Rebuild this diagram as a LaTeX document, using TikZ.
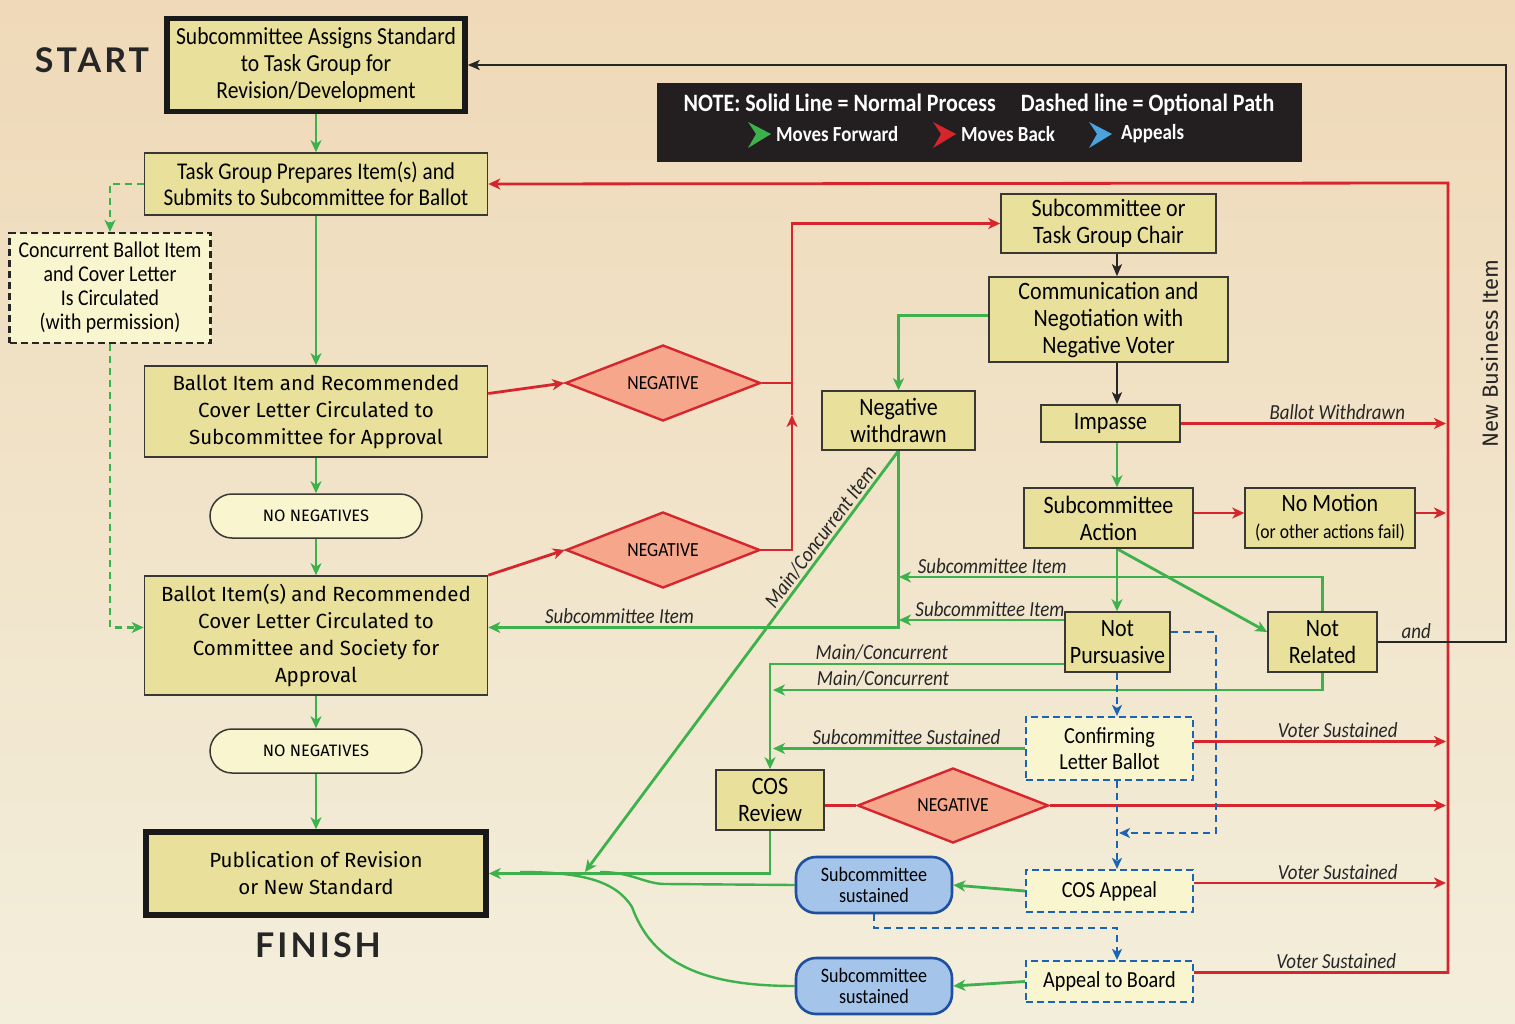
\documentclass[tikz,border=0pt]{standalone}
\usepackage{fontspec}
\setmainfont{Carlito}[FakeStretch=0.88]
\newfontfamily\widefont{Fira Sans}
\newfontfamily\titlefont{Lato}[LetterSpace=9]
\usepackage{xcolor}
\usepackage{tikz}
\usetikzlibrary{shapes.geometric,arrows.meta,calc}
\definecolor{bgtop}{HTML}{EFD9B8}
\definecolor{bgbot}{HTML}{F3EEDB}
\definecolor{boxfill}{HTML}{E9E19B}
\definecolor{paleyellow}{HTML}{F9F5CF}
\definecolor{boxline}{HTML}{3A3835}
\definecolor{negfill}{HTML}{F5A68B}
\definecolor{fred}{HTML}{D7252D}
\definecolor{fgreen}{HTML}{3DB14B}
\definecolor{fblue}{HTML}{1B63B4}
\definecolor{bluefill}{HTML}{A4C5E9}
\definecolor{blueline}{HTML}{1E4FA0}
\definecolor{notebg}{HTML}{231F20}
\definecolor{keyblue}{HTML}{4BA3DD}
\tikzstyle{task box}=[fill=boxfill, draw=boxline, line width=1.6pt, shape=rectangle, align=center, inner sep=0pt, font=\fontsize{25}{27}\selectfont]
\tikzstyle{end box}=[task box, line width=5.5pt, draw=black!90]
\tikzstyle{wide box}=[task box, font=\widefont\fontsize{20.5}{27}\selectfont]
\tikzstyle{option box}=[task box, fill=paleyellow, draw=black!85, dash pattern=on 7pt off 4pt, line width=2.2pt, font=\fontsize{22.5}{24}\selectfont]
\tikzstyle{appeal box}=[option box, draw=fblue, font=\fontsize{23}{26}\selectfont]
\tikzstyle{pill}=[fill=paleyellow, draw=boxline, line width=1.5pt, rounded corners=22pt, inner sep=0pt, font=\widefont\fontsize{16.5}{18}\selectfont]
\tikzstyle{negative node}=[shape=diamond, fill=negfill, draw=fred, line width=2.4pt, shape aspect=2.6, inner sep=0pt, font=\fontsize{20}{22}\selectfont]
\tikzstyle{sustained node}=[fill=bluefill, draw=blueline, line width=2.6pt, rounded corners=20pt, align=center, inner sep=0pt, font=\fontsize{20.5}{21}\selectfont]
\tikzstyle{end label}=[text=black!85, font=\titlefont\bfseries\fontsize{34}{36}\selectfont]
\tikzstyle{note box}=[fill=notebg, draw=none, minimum width=645pt, minimum height=79pt]
\tikzstyle{note text}=[text=white, inner sep=0pt, font=\bfseries\fontsize{25}{27}\selectfont]
\tikzstyle{key text}=[note text, anchor=west, font=\bfseries\fontsize{21.5}{23}\selectfont]
\tikzstyle{edge label}=[above, inner sep=2pt, text=black!85, font=\itshape\fontsize{21.5}{23}\selectfont]
\tikzstyle{green edge}=[draw=fgreen, line width=2.8pt, -{Stealth[length=12pt, width=11pt, inset=3.5pt]}]
\tikzstyle{green line}=[draw=fgreen, line width=2.4pt]
\tikzstyle{green dash}=[green edge, dash pattern=on 7pt off 5pt]
\tikzstyle{red edge}=[draw=fred, line width=2.8pt, -{Stealth[length=12pt, width=11pt, inset=3.5pt]}]
\tikzstyle{red line}=[draw=fred, line width=2.8pt]
\tikzstyle{black edge}=[draw=black!85, line width=2pt, -{Stealth[length=12pt, width=10pt, inset=3pt]}]
\tikzstyle{blue edge}=[draw=fblue, line width=2.6pt, dash pattern=on 7pt off 5pt, -{Stealth[length=11pt, width=10pt, inset=3pt]}]
\pgfdeclarelayer{bglayer}
\pgfdeclarelayer{edgelayer}
\pgfdeclarelayer{nodelayer}
\pgfsetlayers{bglayer,edgelayer,nodelayer,main}

\begin{document}
\begin{tikzpicture}[x=1pt, y=-1pt]
	\useasboundingbox (0,0) rectangle (1515,1024);
	\begin{pgfonlayer}{bglayer}
		\shade [top color=bgtop, bottom color=bgbot] (0,0) rectangle (1515,1024);
	\end{pgfonlayer}
	\begin{pgfonlayer}{nodelayer}
		\node [style=end label] (0) at (92,60) {START};
		\node [style=end box, font=\fontsize{24.5}{27}\selectfont, minimum width=298pt, minimum height=93pt] (1) at (316,65) {Subcommittee Assigns Standard\\to Task Group for\\Revision/Development};
		\node [style=task box, font=\fontsize{24}{26}\selectfont, minimum width=343pt, minimum height=62pt] (2) at (316,184) {Task Group Prepares Item(s) and\\Submits to Subcommittee for Ballot};
		\node [style=option box, minimum width=201pt, minimum height=110pt] (3) at (110,288) {Concurrent Ballot Item\\and Cover Letter\\Is Circulated\\(with permission)};
		\node [style=wide box, minimum width=343pt, minimum height=91pt] (4) at (316,411.5) {Ballot Item and Recommended\\Cover Letter Circulated to\\Subcommittee for Approval};
		\node [style=pill, minimum width=212pt, minimum height=44pt] (5) at (316,516) {NO NEGATIVES};
		\node [style=wide box, minimum width=343pt, minimum height=119pt] (6) at (316,635.5) {Ballot Item(s) and Recommended\\Cover Letter Circulated to\\Committee and Society for\\Approval};
		\node [style=pill, minimum width=212pt, minimum height=44pt] (7) at (316,751) {NO NEGATIVES};
		\node [style=end box, font=\widefont\fontsize{20.5}{27}\selectfont, minimum width=340pt, minimum height=83pt] (8) at (316,873.5) {Publication of Revision\\or New Standard};
		\node [style=end label] (9) at (318,945) {FINISH};
		\node [style=note box] (10) at (979.5,122.5) {};
		\node [style=note text] (42) at (979,105) {NOTE: Solid Line = Normal Process\quad Dashed line = Optional Path};
		\node [style=key text] (43) at (776,134) {Moves Forward};
		\node [style=key text] (44) at (961,134) {Moves Back};
		\node [style=key text] (45) at (1121,134) {Appeals};
		\node [style=negative node, minimum width=195pt, minimum height=76pt] (11) at (663,383) {NEGATIVE};
		\node [style=negative node, minimum width=194pt, minimum height=76pt] (12) at (663,550) {NEGATIVE};
		\node [style=task box, minimum width=215pt, minimum height=59pt] (13) at (1108.5,223.5) {Subcommittee or\\Task Group Chair};
		\node [style=task box, minimum width=239pt, minimum height=85pt] (14) at (1108.5,319.5) {Communication and\\Negotiation with\\Negative Voter};
		\node [style=task box, minimum width=153pt, minimum height=59pt] (15) at (898.5,420.5) {Negative\\withdrawn};
		\node [style=task box, minimum width=139pt, minimum height=37pt] (16) at (1110.5,423.5) {Impasse};
		\node [style=task box, minimum width=169pt, minimum height=60pt] (17) at (1108.5,518) {Subcommittee\\Action};
		\node [style=task box, minimum width=170pt, minimum height=60pt] (18) at (1330,518) {No Motion\\{\fontsize{20}{24}\selectfont(or other actions fail)}};
		\node [style=task box, minimum width=105pt, minimum height=60pt] (19) at (1117.5,642) {Not\\Pursuasive};
		\node [style=task box, minimum width=109pt, minimum height=60pt] (20) at (1322.5,642) {Not\\Related};
		\node [style=appeal box, minimum width=167pt, minimum height=63pt] (21) at (1109.5,748.5) {Confirming\\Letter Ballot};
		\node [style=task box, minimum width=108pt, minimum height=60pt] (22) at (770,800) {COS\\Review};
		\node [style=negative node, minimum width=191pt, minimum height=75pt] (23) at (953,805.5) {NEGATIVE};
		\node [style=appeal box, minimum width=167pt, minimum height=42pt] (24) at (1109.5,891) {COS Appeal};
		\node [style=sustained node, minimum width=156pt, minimum height=56pt] (25) at (874,885) {Subcommittee\\sustained};
		\node [style=appeal box, minimum width=167pt, minimum height=41pt] (26) at (1109.5,981.5) {Appeal to Board};
		\node [style=sustained node, minimum width=156pt, minimum height=56pt] (27) at (874,986) {Subcommittee\\sustained};
	\end{pgfonlayer}
	\begin{pgfonlayer}{edgelayer}
		\coordinate (30) at (792,415);
		\coordinate (31) at (1117,0);
		\coordinate (32) at (1448,183);
		\coordinate (33) at (1446,0);
		\coordinate (34) at (1506,65);
		\coordinate (35) at (899,0);
		\coordinate (36) at (899,577);
		\coordinate (37) at (585,872);
		\coordinate (38) at (773,690);
		\coordinate (39) at (1216,833);
		\coordinate (40) at (1119,833);
		\coordinate (41) at (1117,928);
		% main column
		\draw [style=green edge] (1) to (2);
		\draw [style=green edge] (2) to (4);
		\draw [style=green edge] (4) to (5);
		\draw [style=green edge] (5) to (6);
		\draw [style=green edge] (6) to (7);
		\draw [style=green edge] (7) to (8);
		\draw [style=green dash] (2.west) -| (3.north);
		\draw [style=green dash] (3.south) |- ([yshift=8pt]6.west);
		% negatives go to the chair
		\draw [style=red edge] ([yshift=18pt]4.east) to (11.west);
		\draw [style=red edge] (6.north east) to (12.west);
		\draw [style=red line] (11.east) to (11.east -| 30);
		\draw [style=red edge] (12.east) -| (30);
		\draw [style=red edge] (30) |- (13.west);
		\draw [style=black edge] (13.south -| 31) to (14.north -| 31);
		\draw [style=black edge] (14.south -| 31) to (16.north -| 31);
		\draw [style=green edge] ([yshift=4pt]14.west) -| (15.north);
		\draw [style=green edge] (16.south -| 31) to (17.north -| 31);
		\draw [style=green edge] (17.south -| 31) to (19.north -| 31);
		\draw [style=green edge] (17.south -| 31) to ([yshift=10pt]20.west);
		\draw [style=red edge] ([yshift=5pt]17.east) to ([yshift=5pt]18.west);
		% back to task group
		\draw [style=red edge] ([yshift=9pt]26.east) -| node [style=edge label, pos=0.28] {Voter Sustained} (32) -- (2.east);
		\draw [style=red edge] (16.east) to node [style=edge label, pos=0.59] {Ballot Withdrawn} (16.east -| 33);
		\draw [style=red edge] ([yshift=5pt]18.east) to ([yshift=5pt]18.east -| 33);
		\draw [style=red edge] ([yshift=7pt]21.east) to node [style=edge label, pos=0.57] {Voter Sustained} ([yshift=7pt]21.east -| 33);
		\draw [style=red line] (23.west -| 22.east) to (23.west);
		\draw [style=red edge] (23.east) to (23.east -| 33);
		\draw [style=red edge] ([yshift=8pt]24.east) to node [style=edge label, pos=0.57] {Voter Sustained} ([yshift=8pt]24.east -| 33);
		% new business item
		\draw [style=black edge] (20.east) -| node [style=edge label, pos=0.15] {and} node [pos=0.75, rotate=90, anchor=south, inner sep=7pt, text=black!85, font=\widefont\fontsize{22}{24}\selectfont] {New Business Item} (34) -- (1.east);
		% back to ballot
		\draw [style=green edge] (20.north) |- node [style=edge label, pos=0.89] {Subcommittee Item} (36);
		\draw [style=green edge] ([yshift=22pt]19.west) to node [style=edge label, pos=0.45] {Subcommittee Item} ([yshift=22pt]19.west -| 35);
		\draw [style=green edge] (15.south) |- node [style=edge label, pos=0.84] {Subcommittee Item} ([yshift=8pt]6.east);
		\draw [style=green edge] (15.south) to node [style=edge label, sloped, pos=0.22] {Main/Concurrent Item} (37);
		% cos review
		\draw [style=green edge] ([yshift=-22pt]19.west) -| node [style=edge label, pos=0.31] {Main/Concurrent} (22.north);
		\draw [style=green edge] (20.south) |- node [style=edge label, pos=0.9] {Main/Concurrent} (38);
		\draw [style=green edge] (21.west) to node [style=edge label, pos=0.47] {Subcommittee Sustained} (21.west -| 38);
		\draw [style=green edge] (22.south) |- (8.east);
		% appeals
		\draw [style=blue edge] (19.south -| 31) to (21.north -| 31);
		\draw [style=blue edge] ([yshift=10pt]19.east) -| (39) -- (40);
		\draw [style=blue edge] (21.south -| 31) to (24.north -| 31);
		\draw [style=blue edge] (25.south) |- (41) -- (26.north -| 31);
		\draw [style=green edge] (24.west) to (25.east);
		\draw [style=green edge] (26.west) to (27.east);
		\draw [style=green line] (25.west) -- (665,884) .. controls (645,884) and (632,872) .. (600,872);
		\draw [style=green line] (27.west) .. controls (700,986) and (652,962) .. (632,907) .. controls (615,880) and (580,872) .. (520,872);
	\end{pgfonlayer}
	% key arrowheads
	\fill [fgreen] (748,122) -- (771,134) -- (748,148) -- (756,134) -- cycle;
	\fill [fred] (933,122) -- (956,134) -- (933,148) -- (941,134) -- cycle;
	\fill [keyblue] (1089,122) -- (1112,134) -- (1089,148) -- (1097,134) -- cycle;
\end{tikzpicture}
\end{document}
